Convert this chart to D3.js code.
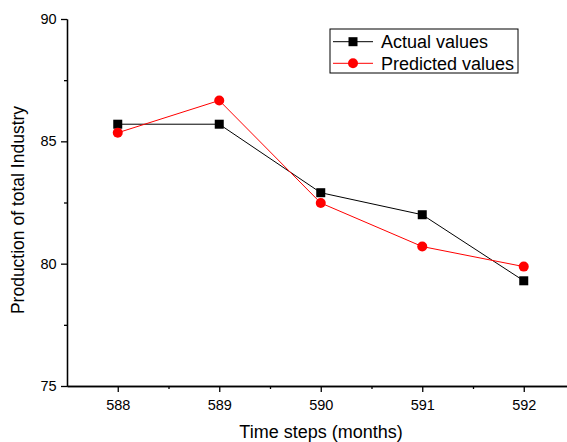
<!DOCTYPE html>
<html>
<head>
<meta charset="utf-8">
<script src="https://cdn.jsdelivr.net/npm/d3@7"></script>
<style>
  body { margin: 0; background: #fff; }
  .svg-frame { width: 567px; height: 442px; overflow: hidden; }
  text { font-family: "Liberation Sans", Arial, sans-serif; fill: #000; }
</style>
</head>
<body>
<div class="svg-frame"></div>
<script>
const months = [588, 589, 590, 591, 592]
const actualValues = [85.7, 85.7, 82.9, 82.0, 79.3]
const predictedValues = [85.35, 86.67, 82.48, 80.7, 79.88]
const yTicks = [75, 80, 85, 90]
const yMinorTicks = [77.5, 82.5, 87.5]
const xMinorTicks = [588.5, 589.5, 590.5, 591.5]

function drawViz() {
  const frameWidth = 567
  const frameHeight = 442
  const svg = d3.select(".svg-frame")
    .append("svg")
    .attr("width", frameWidth)
    .attr("height", frameHeight)

  // plot box: left axis at 67, x from 587.5 running past the right edge
  const margin = { top: 19, left: 67, bottom: 56 }
  const xScale = d3.scaleLinear([587.5, 592.5], [margin.left, margin.left + 5 * 101.5])
  const yScale = d3.scaleLinear([75, 90], [frameHeight - margin.bottom, margin.top])

  //axes
  const xAxis = svg.append("g")
    .attr("transform", `translate(0,${yScale(75)})`)
    .call(d3.axisBottom(xScale).tickValues(months).tickFormat(d3.format("d")).tickSize(6).tickSizeOuter(0))
  xAxis.append("g")
    .call(d3.axisBottom(xScale).tickValues(xMinorTicks).tickFormat("").tickSize(3).tickSizeOuter(0))
  const yAxis = svg.append("g")
    .attr("transform", `translate(${margin.left},0)`)
    .call(d3.axisLeft(yScale).tickValues(yTicks).tickSize(6).tickSizeOuter(0))
  yAxis.append("g")
    .call(d3.axisLeft(yScale).tickValues(yMinorTicks).tickFormat("").tickSize(3).tickSizeOuter(0))

  svg.selectAll(".domain, .tick line").attr("stroke", "#000").attr("stroke-width", 1.3)
  xAxis.selectAll(".tick text").attr("font-size", 14.5).attr("dy", "1.05em")
  yAxis.selectAll(".tick text").attr("font-size", 14.5).attr("dx", "-0.1em")
  svg.selectAll(".tick text").attr("font-family", "Liberation Sans, Arial, sans-serif").attr("fill", "#000")

  //axis titles
  svg.append("text")
    .attr("x", 321)
    .attr("y", 438)
    .attr("text-anchor", "middle")
    .attr("font-size", 18)
    .text("Time steps (months)")
  svg.append("text")
    .attr("transform", "translate(24,210) rotate(-90)")
    .attr("text-anchor", "middle")
    .attr("font-size", 17.5)
    .text("Production of total Industry")

  //series
  const series = [
    { name: "Actual values", values: actualValues, color: "#000", shape: "square" },
    { name: "Predicted values", values: predictedValues, color: "#ff0000", shape: "circle" }
  ]
  const line = d3.line()
    .x((d, i) => xScale(months[i]))
    .y(d => yScale(d))

  const drawMarker = (sel, s) => {
    if (s.shape === "square") {
      sel.append("rect")
        .attr("x", -4.5).attr("y", -4.5)
        .attr("width", 9).attr("height", 9)
        .attr("fill", s.color)
    } else {
      sel.append("circle")
        .attr("r", 5)
        .attr("fill", s.color)
    }
  }

  series.forEach(s => {
    svg.append("path")
      .datum(s.values)
      .attr("d", line)
      .attr("fill", "none")
      .attr("stroke", s.color)
      .attr("stroke-width", 1)
    svg.selectAll(null)
      .data(s.values)
      .join("g")
        .attr("transform", (d, i) => `translate(${xScale(months[i])},${yScale(d)})`)
        .each(function () { drawMarker(d3.select(this), s) })
  })

  //legend
  const legend = svg.append("g").attr("transform", "translate(330,29)")
  legend.append("rect")
    .attr("width", 188).attr("height", 44)
    .attr("fill", "#fff").attr("stroke", "#000").attr("stroke-width", 1)
  series.forEach((s, i) => {
    const row = legend.append("g").attr("transform", `translate(0,${12.7 + i * 21.6})`)
    row.append("line")
      .attr("x1", 3).attr("x2", 43)
      .attr("stroke", s.color).attr("stroke-width", 1)
    drawMarker(row.append("g").attr("transform", "translate(23,0)"), s)
    row.append("text")
      .attr("x", 51)
      .attr("y", 6.5)
      .attr("font-size", 18)
      .text(s.name)
  })
}

drawViz()
</script>
</body>
</html>
